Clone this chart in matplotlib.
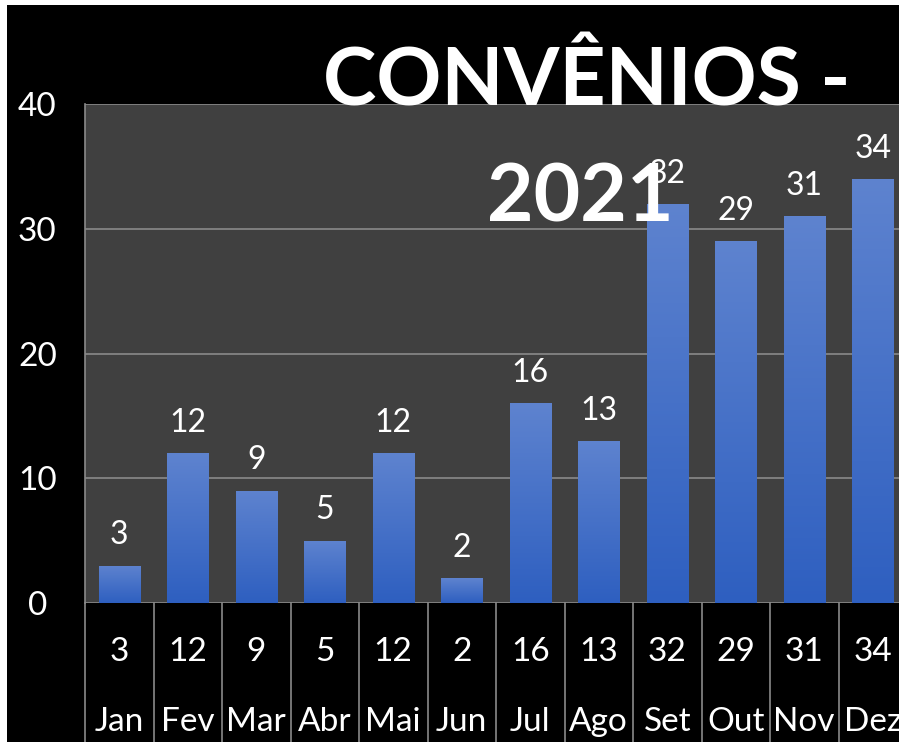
import numpy as np
import matplotlib
matplotlib.use("Agg")
import matplotlib.pyplot as plt
from matplotlib.patches import Rectangle
import matplotlib.transforms as mtransforms

meses = ["Jan", "Fev", "Mar", "Abr", "Mai", "Jun", "Jul", "Ago", "Set", "Out", "Nov", "Dez"]
convenios = [3, 12, 9, 5, 12, 2, 16, 13, 32, 29, 31, 34]
yticks = [0, 10, 20, 30, 40]

plt.rcParams['font.family'] = ['Lato', 'DejaVu Sans']

W, H = 899, 742
fig = plt.figure(figsize=(W / 100, H / 100), dpi=100, facecolor="black")

# thin white border on left and top
fig.patches.append(Rectangle((0, 0), 7 / W, 1, transform=fig.transFigure,
                             facecolor="white", edgecolor="none", zorder=-5))
fig.patches.append(Rectangle((0, 1 - 5 / H), 1, 5 / H, transform=fig.transFigure,
                             facecolor="white", edgecolor="none", zorder=-5))

ax = fig.add_axes([85 / W, (H - 603) / H, 822 / W, 499 / H])
ax.set_facecolor("#404040")

x = np.arange(len(meses))
bw = 0.6
bars = ax.bar(x, convenios, width=bw, facecolor="none", edgecolor="none", zorder=3)

# vertical gradient inside each bar
grad = np.linspace(0, 1, 256).reshape(-1, 1)
cmap = matplotlib.colors.LinearSegmentedColormap.from_list("azul", ["#2E5FC0", "#5E83CF"])
for b, xi, v in zip(bars, x, convenios):
    im = ax.imshow(grad, extent=[xi - bw / 2, xi + bw / 2, 0, v], origin="lower",
                   aspect="auto", cmap=cmap, zorder=3)
    im.set_clip_path(b)
    ax.annotate(str(v), (xi, v), xytext=(0, 11), textcoords="offset points",
                ha="center", va="bottom", color="white", fontsize=23, zorder=4)

ax.set_xlim(-0.5, len(meses) - 0.5)
ax.set_ylim(0, 40)
ax.set_yticks(yticks)
ax.yaxis.grid(True, color="#8a8a8a", linewidth=1.2)
ax.set_axisbelow(True)
ax.tick_params(axis="y", length=0, labelsize=24, labelcolor="white", pad=0)
for lab in ax.get_yticklabels():
    lab.set_horizontalalignment("center")
    lab.set_x(-0.058)
ax.set_xticks([])
for s in ["top", "right", "bottom"]:
    ax.spines[s].set_visible(False)
ax.spines["left"].set_color("#8a8a8a")
ax.spines["left"].set_linewidth(1.2)

# data table below the plot
trans = mtransforms.blended_transform_factory(ax.transData, ax.transAxes)
for i in range(len(meses) + 1):
    ax.plot([i - 0.5, i - 0.5], [0, -0.3], transform=trans, color="#8a8a8a",
            linewidth=1.2, clip_on=False, zorder=5)
for xi, m, v in zip(x, meses, convenios):
    ax.text(xi, -0.098, str(v), transform=trans, ha="center", va="center",
            color="white", fontsize=24)
    ax.text(xi, -0.238, m, transform=trans, ha="center", va="center",
            color="white", fontsize=24)

fig.text(587 / W, 1 - 83 / H, "CONVÊNIOS -", ha="center", va="center",
         color="white", fontsize=58, fontweight="bold", zorder=10)
fig.text(580 / W, 1 - 198 / H, "2021", ha="center", va="center",
         color="white", fontsize=58, fontweight="bold", zorder=10)

fig.savefig("out.png", dpi=100, facecolor=fig.get_facecolor())
